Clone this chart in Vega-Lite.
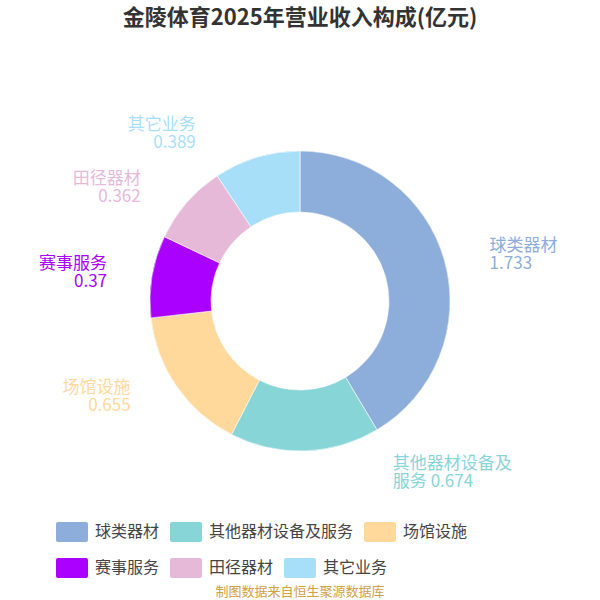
{
  "$schema": "https://vega.github.io/schema/vega-lite/v6.json",
  "padding": {"top": 7, "left": 0, "right": 0, "bottom": 0},
  "background": "white",
  "title": {"text": "金陵体育2025年营业收入构成(亿元)", "anchor": "middle", "fontSize": 22, "fontWeight": "bold", "color": "#333333", "font": "Noto Sans CJK SC", "offset": 8},
  "datasets": {
    "d": [
      {"i": 1, "name": "球类器材", "value": 1.733, "label": "球类器材\n1.733"},
      {"i": 2, "name": "其他器材设备及服务", "value": 0.674, "label": " 其他器材设备及\n服务 0.674"},
      {"i": 3, "name": "场馆设施", "value": 0.655, "label": "场馆设施\n0.655"},
      {"i": 4, "name": "赛事服务", "value": 0.37, "label": "赛事服务\n0.37"},
      {"i": 5, "name": "田径器材", "value": 0.362, "label": "田径器材\n0.362"},
      {"i": 6, "name": "其它业务", "value": 0.389, "label": "其它业务\n0.389"}
    ]
  },
  "vconcat": [
    {
      "width": 600,
      "height": 526,
      "title": {"text": "制图数据来自恒生聚源数据库", "orient": "bottom", "anchor": "middle", "fontSize": 13, "fontWeight": "normal", "color": "#CFA044", "font": "Noto Sans CJK SC", "offset": 22},
      "data": {"name": "d"},
      "encoding": {
        "theta": {"field": "value", "type": "quantitative", "stack": true},
        "order": {"field": "i", "type": "quantitative", "sort": "ascending"}
      },
      "layer": [
        {
          "mark": {"type": "arc", "innerRadius": 89, "outerRadius": 150},
          "encoding": {
            "color": {
              "field": "name",
              "type": "nominal",
              "scale": {
                "domain": ["球类器材", "其他器材设备及服务", "场馆设施", "赛事服务", "田径器材", "其它业务"],
                "range": ["#8DADDA", "#88D5D8", "#FFD99C", "#A900FF", "#E7B9D9", "#A8DFF8"]
              },
              "legend": {
                "orient": "none",
                "legendX": 56,
                "legendY": 478,
                "direction": "horizontal",
                "values": ["球类器材", "其他器材设备及服务", "场馆设施"],
                "title": null,
                "symbolType": "M-0.875,-0.625H0.875A0.125,0.125 0 0 1 1,-0.5V0.5A0.125,0.125 0 0 1 0.875,0.625H-0.875A0.125,0.125 0 0 1 -1,0.5V-0.5A0.125,0.125 0 0 1 -0.875,-0.625Z",
                "symbolSize": 1024,
                "symbolStrokeWidth": 0,
                "symbolOpacity": 1,
                "labelFontSize": 16,
                "labelColor": "#444444",
                "labelFont": "Noto Sans CJK SC",
                "labelOffset": 7,
                "columnPadding": 10
              }
            }
          }
        },
        {
          "mark": {"type": "arc", "innerRadius": 89, "outerRadius": 150, "stroke": "#ffffff", "strokeWidth": 0.6},
          "encoding": {
            "fill": {
              "field": "name",
              "type": "nominal",
              "scale": {
                "domain": ["赛事服务", "田径器材", "其它业务", "球类器材", "其他器材设备及服务", "场馆设施"],
                "range": ["#A900FF", "#E7B9D9", "#A8DFF8", "#8DADDA", "#88D5D8", "#FFD99C"]
              },
              "legend": {
                "orient": "none",
                "legendX": 56,
                "legendY": 514,
                "direction": "horizontal",
                "values": ["赛事服务", "田径器材", "其它业务"],
                "title": null,
                "symbolType": "M-0.875,-0.625H0.875A0.125,0.125 0 0 1 1,-0.5V0.5A0.125,0.125 0 0 1 0.875,0.625H-0.875A0.125,0.125 0 0 1 -1,0.5V-0.5A0.125,0.125 0 0 1 -0.875,-0.625Z",
                "symbolSize": 1024,
                "symbolStrokeWidth": 0,
                "symbolOpacity": 1,
                "labelFontSize": 16,
                "labelColor": "#444444",
                "labelFont": "Noto Sans CJK SC",
                "labelOffset": 7,
                "columnPadding": 10
              }
            }
          }
        },
        {
          "mark": {"type": "text", "radius": 150, "dx": 45, "dy": -15, "align": "left", "baseline": "middle", "fontSize": 17, "lineBreak": "\n", "lineHeight": 18, "font": "Noto Sans CJK SC"},
          "encoding": {
            "color": {"field": "name", "type": "nominal"},
            "text": {"condition": {"test": "datum.name === '球类器材'", "field": "label"}, "value": ""}
          }
        },
        {
          "mark": {"type": "text", "radius": 150, "dx": 88, "dy": 13, "align": "left", "baseline": "middle", "fontSize": 17, "lineBreak": "\n", "lineHeight": 18, "font": "Noto Sans CJK SC"},
          "encoding": {
            "color": {"field": "name", "type": "nominal"},
            "text": {"condition": {"test": "datum.name === '其他器材设备及服务'", "field": "label"}, "value": ""}
          }
        },
        {
          "mark": {"type": "text", "radius": 150, "dx": -46, "dy": 2, "align": "right", "baseline": "middle", "fontSize": 17, "lineBreak": "\n", "lineHeight": 18, "font": "Noto Sans CJK SC"},
          "encoding": {
            "color": {"field": "name", "type": "nominal"},
            "text": {"condition": {"test": "datum.name === '场馆设施'", "field": "label"}, "value": ""}
          }
        },
        {
          "mark": {"type": "text", "radius": 150, "dx": -45, "dy": -12, "align": "right", "baseline": "middle", "fontSize": 17, "lineBreak": "\n", "lineHeight": 18, "font": "Noto Sans CJK SC"},
          "encoding": {
            "color": {"field": "name", "type": "nominal"},
            "text": {"condition": {"test": "datum.name === '赛事服务'", "field": "label"}, "value": ""}
          }
        },
        {
          "mark": {"type": "text", "radius": 150, "dx": -46, "dy": -24, "align": "right", "baseline": "middle", "fontSize": 17, "lineBreak": "\n", "lineHeight": 18, "font": "Noto Sans CJK SC"},
          "encoding": {
            "color": {"field": "name", "type": "nominal"},
            "text": {"condition": {"test": "datum.name === '田径器材'", "field": "label"}, "value": ""}
          }
        },
        {
          "mark": {"type": "text", "radius": 150, "dx": -61, "dy": -32, "align": "right", "baseline": "middle", "fontSize": 17, "lineBreak": "\n", "lineHeight": 18, "font": "Noto Sans CJK SC"},
          "encoding": {
            "color": {"field": "name", "type": "nominal"},
            "text": {"condition": {"test": "datum.name === '其它业务'", "field": "label"}, "value": ""}
          }
        }
      ]
    }
  ],
  "config": {"view": {"stroke": null}, "concat": {"spacing": 0}, "font": "Noto Sans CJK SC"}
}
